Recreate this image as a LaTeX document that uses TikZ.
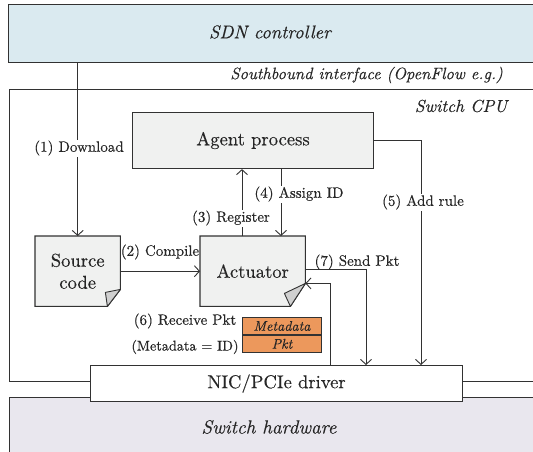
\documentclass[tikz,border=0pt]{standalone}
\usepackage{fontspec}
\setmainfont{lmroman10-regular}[
  Extension=.otf,
  ItalicFont=lmroman10-italic,
  FakeBold=0.25]
\usetikzlibrary{arrows.meta,calc}

\definecolor{ctrlblue}{RGB}{218,234,240}
\definecolor{hwgray}{RGB}{233,231,238}
\definecolor{boxgray}{RGB}{240,241,240}
\definecolor{foldgray}{RGB}{208,208,208}
\definecolor{pktorange}{RGB}{236,152,92}
\definecolor{ink}{RGB}{50,50,50}
\definecolor{txt}{RGB}{38,38,38}

\pgfdeclarelayer{back}
\pgfdeclarelayer{mid}
\pgfsetlayers{back,mid,main}

\tikzset{
  frame/.style={draw=ink, line width=1.1pt, inner sep=0pt},
  bigtxt/.style={font=\fontsize{18.6}{22}\selectfont, text=txt},
  bigital/.style={font=\fontsize{18.5}{22}\selectfont\itshape, text=txt},
  lbl/.style={font=\fontsize{15}{17}\selectfont, text=txt, inner sep=1pt},
  lblw/.style={lbl, fill=white},
  conn/.style={draw=ink, line width=0.9pt},
  arr/.style={conn, -{Straight Barb[length=5pt,width=11pt,line width=0.9pt]}},
  pagebox/.style={inner sep=0pt},
  pktrow/.style={draw=ink, line width=0.9pt, fill=pktorange, minimum width=79, minimum height=17,
    inner sep=0pt, font=\fontsize{14}{15}\selectfont\itshape, text=txt},
}

\begin{document}
\begin{tikzpicture}[x=1pt,y=-1pt]
\clip (0,0) rectangle (533,451);

% outer layers: controller, switch CPU, switch hardware
\begin{pgfonlayer}{back}
  \node[frame, fill=ctrlblue, minimum width=560, minimum height=58, anchor=north west] (sdn) at (8,4) {};
  \node[frame, fill=white, minimum width=560, minimum height=292, anchor=north west] (cpu) at (9,89) {};
  \node[frame, fill=hwgray, minimum width=560, minimum height=80, anchor=north west] (hw) at (9,397) {};
\end{pgfonlayer}

\node[bigital] (sdntxt) at (270,32) {SDN controller};
\node[lbl, font=\fontsize{16.5}{19}\selectfont\itshape, anchor=east] (sbi) at (504,75) {Southbound interface (OpenFlow e.g.)};
\node[bigital, font=\fontsize{17.3}{20}\selectfont\itshape] (cputxt) at (461,106) {Switch CPU};
\node[bigital, font=\fontsize{19}{22}\selectfont\itshape] (hwtxt) at (269,427) {Switch hardware};

% driver
\node[frame, fill=white, minimum width=372, minimum height=36, anchor=north west, bigtxt] (nic) at (90,365) {NIC/PCIe driver};

% agent
\node[frame, fill=boxgray, minimum width=241, minimum height=56, anchor=north west, bigtxt] (agent) at (132,112) {Agent process};

% source code and actuator (page shapes with a folded corner)
\node[pagebox, minimum width=85, minimum height=70, anchor=north west, bigtxt, align=center] (src) at (35,236) {Source\\code};
\node[pagebox, minimum width=105, minimum height=70, anchor=north west, bigtxt] (act) at (200,236) {Actuator};

\begin{pgfonlayer}{mid}
  \draw[ink, line width=1.1pt, fill=boxgray, line join=miter]
    (src.north west) -- (src.north east) -- ($(src.south east)+(0,-17)$)
    -- ($(src.south east)+(-13,0)$) -- (src.south west) -- cycle;
  \draw[ink, line width=0.9pt, fill=foldgray, line join=round]
    ($(src.south east)+(0,-17)$) -- ($(src.south east)+(-15,-14)$)
    -- ($(src.south east)+(-13,0)$) -- cycle;
  \draw[ink, line width=1.1pt, fill=boxgray, line join=miter]
    (act.north west) -- (act.north east) -- ($(act.south east)+(0,-23)$)
    -- ($(act.south east)+(-15,0)$) -- (act.south west) -- cycle;
  \draw[ink, line width=0.9pt, fill=foldgray, line join=round]
    ($(act.south east)+(0,-23)$) -- ($(act.south east)+(-21,-13)$)
    -- ($(act.south east)+(-15,0)$) -- cycle;
\end{pgfonlayer}

% packet with metadata header
\node[pktrow, anchor=north west] (meta) at (242,317) {Metadata};
\node[pktrow, anchor=north] (pkt) at (meta.south) {Pkt};

% connectors
\draw[arr] (src.north |- sdn.south) -- (src.north);
\node[lblw] (l1) at (79,148) {(1) Download};

\draw[arr] (src.east) -- (act.west);
\node[lbl] (l2) at (160,252) {(2) Compile};

\coordinate (regfoot) at ($(act.north west)+(42,0)$);
\draw[arr] (regfoot) -- (regfoot |- agent.south);
\node[lblw] (l3) at (231,218) {(3) Register};

\coordinate (asgtop) at ($(agent.south west)+(149,0)$);
\draw[arr] (asgtop) -- (asgtop |- act.north);
\node[lblw] (l4) at (299,194) {(4) Assign ID};

\coordinate (ruleend) at ($(nic.north west)+(331,0)$);
\draw[arr] (agent.east) -| (ruleend);
\node[lblw] (l5) at (423,202) {(5) Add rule};

\coordinate (sendend) at ($(nic.north west)+(276,0)$);
\draw[arr] ($(act.east)+(0,-2)$) -| (sendend);
\node[lbl] (l7) at (357,262) {(7) Send Pkt};

\coordinate (rcvfoot) at ($(nic.north west)+(240,0)$);
\draw[arr] (rcvfoot) |- ($(act.south east)+(0,-23)$);
\node[lbl] (l6) at (185,321) {(6) Receive Pkt};
\node[lbl, font=\fontsize{14.2}{17}\selectfont] (l6b) at (185,347) {(Metadata = ID)};
\end{tikzpicture}
\end{document}
